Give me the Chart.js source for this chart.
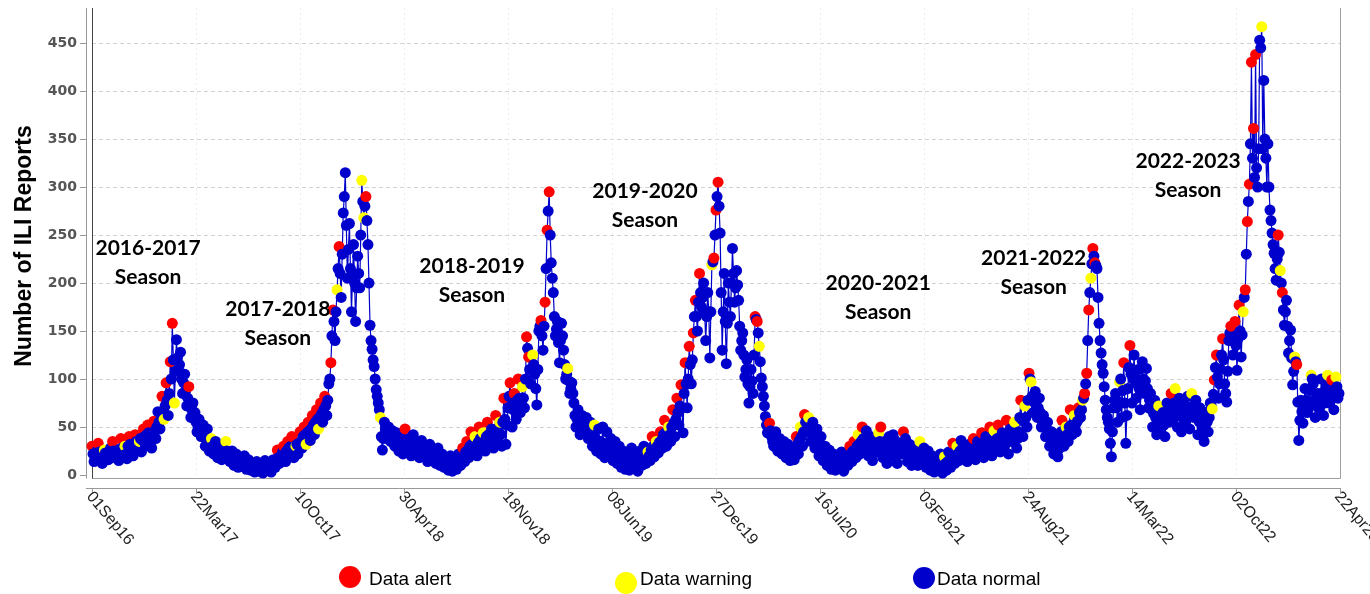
<!DOCTYPE html>
<html><head><meta charset="utf-8">
<script src="https://cdn.jsdelivr.net/npm/chart.js@4/dist/chart.umd.min.js"></script>
<style>html,body{margin:0;padding:0;background:#fff;overflow:hidden}#wrap{position:relative;width:1370px;height:594px}</style>
</head><body><div id="wrap"><canvas id="c"></canvas></div>
<script>
// ---- data: ILI reports, a reading every 2 days from 01Sep16 ----
// ili_* = readings on days 0,4,8,...  mid_* = readings on days 2,6,10,...
const stepDays = 4;
const tickLabels = ['01Sep16','22Mar17','10Oct17','30Apr18','18Nov18','08Jun19','27Dec19','16Jul20','03Feb21','24Aug21','14Mar22','02Oct22','22Apr23'];
const tickDays = [0,202,404,606,808,1010,1212,1414,1616,1818,2020,2222,2424];
const yTicks = [0,50,100,150,200,250,300,350,400,450];
const seasonNames = ['2016-2017','2017-2018','2018-2019','2019-2020','2020-2021','2021-2022','2022-2023'];
const legendLabels = ['Data alert','Data warning','Data normal'];

const ili_2016_09 = [30,14,22,33,18,12,26,20,16,28, 35,18,24,15,38,22,30,17,40,25, 20,42,28,35,24,48,30,52,38,28, 56,38,66,48,82,58,96,62,118,158, 75,141,110,128,85,105,72,92,60,75];
const mid_2016_09 = [22,18,25,24,20,21,23,19,22,26, 25,21,20,27,28,24,22,30,32,28, 32,35,30,38,36,40,42,44,34,40, 46,50,55,58,66,72,78,85,100,120, 108,122,115,100,96,88,80,76,68,62];
const ili_2017_03 = [65,45,58,40,52,30,48,25,38,22, 35,18,30,16,26,35,20,14,25,10, 22,8,18,12,20,6,16,5,12,3, 14,4,10,2,15,5,11,3,16,8, 26,12,20,30,14,35,22,40,18,30];
const mid_2017_03 = [55,50,48,46,42,38,36,32,30,28, 26,24,22,21,20,25,18,16,15,14, 15,12,13,14,10,11,9,8,7,9, 8,7,6,8,9,7,6,10,12,14, 18,16,24,22,25,28,30,26,28,32];
const ili_2017_10 = [22,45,28,50,32,55,36,62,42,68, 48,75,55,82,62,95,117,172,140,193, 238,185,273,315,205,262,170,240,160,228, 195,307,268,290,240,156,131,113,89,75, 60,26,55,42,50,35,46,30,44,25];
const mid_2017_10 = [32,35,40,42,44,46,48,52,55,58, 60,64,68,72,78,100,145,160,170,215, 210,230,290,260,235,215,205,200,195,210, 250,285,280,265,200,140,120,100,82,68, 40,38,48,45,40,42,38,36,32,34];
const ili_2018_04 = [40,22,48,28,38,20,42,24,35,18, 36,20,30,14,32,18,26,12,28,10, 22,8,18,5,20,4,15,6,22,10, 28,14,35,18,45,22,40,20,50,28, 44,25,55,32,48,28,62,36,55,30];
const mid_2018_04 = [30,34,36,32,28,30,32,28,26,27, 26,24,22,23,24,20,18,19,18,16, 14,12,11,12,10,9,10,13,15,18, 20,24,26,30,32,30,28,34,38,36, 34,40,42,38,36,44,48,45,42,55];
const ili_2018_11 = [80,32,70,96,50,85,58,100,65,92, 70,144,123,95,125,105,73,150,161,130, 180,255,295,221,190,145,160,117,158,130, 100,111,85,96,75,50,68,42,62,45, 60,38,55,30,52,25,48,22,50,18];
const mid_2018_11 = [58,52,82,72,68,70,78,80,76,80, 100,132,110,110,115,90,110,155,145,155, 215,275,250,205,165,152,138,140,145,115, 105,98,90,85,62,58,55,52,54,50, 48,46,42,40,38,36,35,34,30,32];
const ili_2019_05 = [45,20,38,15,35,12,30,8,25,6, 22,5,28,8,20,4,25,10,30,12, 24,15,40,19,35,23,45,28,57,30, 50,35,68,40,80,52,94,44,117,70, 134,95,148,182,150,210,175,200,140,190];
const mid_2019_05 = [32,28,26,24,22,20,18,16,14,13, 12,15,16,14,12,14,16,20,22,20, 20,26,30,28,30,34,36,42,44,40, 42,50,54,58,65,72,70,85,95,100, 115,120,165,165,180,190,185,170,165,170];
const ili_2019_12 = [122,219,226,276,305,252,130,210,116,200, 165,236,180,213,182,130,148,102,120,75, 110,85,165,160,134,101,82,61,44,54, 40,30,45,25,38,22,35,18,32,15, 28,16,40,22,50,30,63,45,60,35];
const mid_2019_12 = [170,222,250,290,280,190,170,160,158,180, 200,210,195,198,155,140,125,110,95,92, 98,125,162,148,118,92,72,52,48,46, 35,38,35,32,30,28,26,25,24,22, 22,28,32,36,40,45,55,52,48,45];
const ili_2020_07 = [55,28,48,20,40,15,30,10,26,6, 22,5,18,8,24,4,20,10,30,14, 35,18,42,22,50,28,46,20,40,15, 38,24,44,50,18,35,12,40,20,42, 36,12,30,22,45,38,14,32,10,28];
const mid_2020_07 = [42,38,34,30,28,22,20,18,16,14, 13,12,13,15,14,12,15,20,22,25, 26,30,32,35,38,36,33,30,28,26, 30,34,35,32,26,24,25,28,30,30, 24,22,26,32,34,26,22,20,19,20];
const ili_2021_01 = [30,10,35,14,28,8,25,5,20,3, 18,6,22,2,19,5,24,8,33,12, 30,15,36,18,28,14,32,20,38,16, 35,22,44,18,40,25,50,20,46,28, 52,24,44,30,57,22,48,35,55,28];
const mid_2021_01 = [20,22,24,20,18,16,15,13,11,10, 12,14,12,10,12,14,16,20,22,21, 22,25,27,26,22,24,26,28,27,26, 28,32,30,29,32,36,34,33,36,38, 38,34,36,42,38,35,40,45,42,38];
const ili_2021_08 = [45,78,40,72,50,106,97,65,87,60, 80,50,62,40,55,30,45,22,40,19, 35,57,30,50,35,68,42,62,45,70, 60,78,85,106,172,205,236,221,215,158, 127,106,78,60,48,19,70,85,55,97];
const mid_2021_08 = [60,58,56,60,78,100,82,76,72,70, 65,56,50,48,42,38,34,30,28,27, 45,42,40,42,50,52,50,52,56,65, 68,80,95,140,190,220,228,218,185,140, 115,92,68,55,33,45,78,70,76,100];
const ili_2022_02 = [60,117,33,90,135,75,125,80,110,68, 118,85,111,70,85,50,78,42,72,48, 65,40,75,55,85,60,90,50,80,45, 75,55,82,48,85,60,78,42,70,50, 35,65,45,75,69,99,125,80,110,142];
const mid_2022_02 = [88,75,62,112,105,100,102,95,90,93, 100,98,90,78,68,64,60,58,60,56, 52,58,65,70,72,75,70,65,62,60, 65,68,65,66,72,70,60,56,60,42, 50,55,60,72,84,112,102,95,125,120];
const ili_2022_09 = [95,76,140,155,125,160,109,177,123,170, 193,264,303,430,361,438,300,453,467,411, 330,345,276,252,231,203,250,213,190,156, 182,127,151,94,123,115,36,78,54,90, 65,72,104,95,60,85,70,100,62,88];
const mid_2022_09 = [85,108,148,140,142,135,142,150,146,185, 230,285,345,330,310,320,340,445,340,350, 300,300,265,240,215,225,232,200,172,170, 155,140,122,108,118,76,57,66,72,78, 68,88,100,78,72,78,85,80,75,92];
const ili_2023_03 = [104,75,99,68,102,80];
const mid_2023_03 = [88,85,80,86,92,85];

// status of the ili_* readings: a = alert, w = warning, n = normal (mid_* readings are normal)
const st_2016_09 = 'annannwnnn annnanwnan nanwnanann annnawanaa wnnnnnnann';
const st_2017_03 = 'nnnnnnnnwn nnnnnwnnnn nnnnnnnnnn nnnnnnnnnn annanananw';
const st_2017_10 = 'nanawanana wanannaanw annnnnnnnn nwwannnnnn wnnnnnnnnn';
const st_2018_04 = 'nnannnnnnn nnnnnnnnnn nnnnnnnnnn anananwnan wnannnanwn';
const st_2018_11 = 'annanananw naanwnnnan aaannnnnnn nwnnnnnnnn nnnnwnnnnn';
const st_2019_05 = 'nnnnnnnnnn nnnnnnnnnn wnanwnanan wnanananan anaanannnn';
const st_2019_12 = 'nwaaannnnn nnnnnnnnnn nnaawnnnna nnnnnnnnnn nnanwnanwn';
const st_2020_07 = 'nnnnnnnnnn nnnnnnnnan anwnannnnn nnwannnnnn nnnnannnnn';
const st_2021_01 = 'nnwnnnnnnn nnnnwnnnan wnnnnnnnan nnannnanwn annnannnwn';
const st_2021_08 = 'nanwnawnnn nnnnnnnnnn nanwnanwna nwaaawaann nnnnnnnnnw';
const st_2022_02 = 'nannannnnn nnnnnnnnwn nnnnanwnnn nnnnwnnnnn nnnnwaanna';
const st_2022_09 = 'nnnanananw aaaaaannwn nnnnnnawan nnnnwannnn nnwnnnnnnn';
const st_2023_03 = 'wnanwn';

// ---- build ----
const mainChunks = [ili_2016_09,ili_2017_03,ili_2017_10,ili_2018_04,ili_2018_11,ili_2019_05,ili_2019_12,ili_2020_07,ili_2021_01,ili_2021_08,ili_2022_02,ili_2022_09,ili_2023_03];
const midChunks = [mid_2016_09,mid_2017_03,mid_2017_10,mid_2018_04,mid_2018_11,mid_2019_05,mid_2019_12,mid_2020_07,mid_2021_01,mid_2021_08,mid_2022_02,mid_2022_09,mid_2023_03];
const statusChunks = [st_2016_09,st_2017_03,st_2017_10,st_2018_04,st_2018_11,st_2019_05,st_2019_12,st_2020_07,st_2021_01,st_2021_08,st_2022_02,st_2022_09,st_2023_03];
const COLORS = {a:'#ff0000', w:'#ffff00', n:'#0000cc'};
const pts = [], ptColors = [];
let idx = 0;
mainChunks.forEach((arr, k) => {
  const st = statusChunks[k].replace(/\s+/g,'');
  arr.forEach((v, j) => {
    const day = idx * stepDays;
    pts.push({x: day, y: v});
    ptColors.push(COLORS[st[j]] || COLORS.n);
    const m = midChunks[k][j];
    if (m !== undefined && day + stepDays / 2 <= 2424) {
      pts.push({x: day + stepDays / 2, y: m});
      ptColors.push(COLORS.n);
    }
    idx++;
  });
});

const seasonAnchors = [ // [day, value] centre of first text line
  [109,236],[361,173],[738,218],[1074,296],[1527,200],[1829,226],[2129,327]
];

const decor = {
  id: 'decor',
  beforeDatasetsDraw(chart) {
    const {ctx, chartArea: a, scales: {x, y}} = chart;
    ctx.save();
    ctx.lineWidth = 1;
    ctx.strokeStyle = '#d2d2d2';
    ctx.setLineDash([4,3]);
    yTicks.forEach(v => {
      if (v === 0) return;
      const py = Math.round(y.getPixelForValue(v)) + 0.5;
      ctx.beginPath(); ctx.moveTo(a.left, py); ctx.lineTo(a.right, py); ctx.stroke();
    });
    ctx.strokeStyle = '#ededed';
    ctx.setLineDash([2,3]);
    tickDays.forEach(d => {
      const px = Math.round(x.getPixelForValue(d)) + 0.5;
      if (px < a.left + 3 || px > a.right - 3) return;
      ctx.beginPath(); ctx.moveTo(px, a.top); ctx.lineTo(px, a.bottom); ctx.stroke();
    });
    ctx.setLineDash([]);
    ctx.strokeStyle = '#a0a0a0';
    ctx.beginPath();
    ctx.moveTo(a.right + 0.5, a.top); ctx.lineTo(a.right + 0.5, a.bottom + 0.5);
    ctx.lineTo(a.left, a.bottom + 0.5);
    ctx.stroke();
    ctx.strokeStyle = '#444';
    ctx.beginPath(); ctx.moveTo(a.left + 0.5, a.top); ctx.lineTo(a.left + 0.5, a.bottom + 0.5); ctx.stroke();
    ctx.strokeStyle = '#999';
    ctx.beginPath(); ctx.moveTo(86.5, a.top); ctx.lineTo(86.5, a.bottom + 0.5); ctx.stroke();
    ctx.beginPath(); ctx.moveTo(86, 488.5); ctx.lineTo(a.right + 1, 488.5); ctx.stroke();
    ctx.restore();
  },
  afterDatasetsDraw(chart) {
    const {ctx, chartArea: a, scales: {x, y}} = chart;
    ctx.save();
    ctx.strokeStyle = '#999'; ctx.lineWidth = 1;
    ctx.font = 'bold 14px "DejaVu Sans"';
    ctx.fillStyle = '#555';
    ctx.textAlign = 'right'; ctx.textBaseline = 'middle';
    yTicks.forEach(v => {
      const py = Math.round(y.getPixelForValue(v)) + 0.5;
      ctx.beginPath(); ctx.moveTo(80, py); ctx.lineTo(86, py); ctx.stroke();
      ctx.fillText(String(v), 77, py);
    });
    ctx.save();
    ctx.translate(31, 246);
    ctx.rotate(-Math.PI / 2);
    ctx.font = 'bold 23px "Liberation Sans", Arial, sans-serif';
    ctx.fillStyle = '#000';
    ctx.textAlign = 'center'; ctx.textBaseline = 'alphabetic';
    ctx.fillText('Number of ILI Reports', 0, 0);
    ctx.restore();
    ctx.font = '16px "Liberation Sans", Arial, sans-serif';
    ctx.fillStyle = '#222';
    tickDays.forEach((d, i) => {
      const px = Math.round(x.getPixelForValue(d)) + 0.5;
      ctx.beginPath(); ctx.moveTo(px, 488); ctx.lineTo(px, 494); ctx.stroke();
      ctx.save();
      ctx.translate(px - 3, 494);
      ctx.rotate(50 * Math.PI / 180);
      ctx.textAlign = 'left'; ctx.textBaseline = 'middle';
      ctx.fillText(tickLabels[i], 0, 0);
      ctx.restore();
    });
    ctx.font = 'bold 21px Lato, "Open Sans", sans-serif';
    ctx.fillStyle = '#000';
    ctx.textAlign = 'center'; ctx.textBaseline = 'middle';
    seasonAnchors.forEach((p, i) => {
      const px = x.getPixelForValue(p[0]);
      const py = y.getPixelForValue(p[1]);
      ctx.fillText(seasonNames[i], px, py);
      ctx.fillText('Season', px, py + 29);
    });
    const legendPos = [[350,577,369],[626,583,640],[924,578,937]];
    const legendCols = [COLORS.a, COLORS.w, COLORS.n];
    ctx.font = '19px "Liberation Sans", Arial, sans-serif';
    ctx.textAlign = 'left'; ctx.textBaseline = 'alphabetic';
    legendLabels.forEach((t, i) => {
      const [cx, cy, tx] = legendPos[i];
      ctx.fillStyle = legendCols[i];
      ctx.beginPath(); ctx.arc(cx, cy, 11, 0, Math.PI * 2); ctx.fill();
      ctx.fillStyle = '#000';
      ctx.fillText(t, tx, 585);
    });
    ctx.restore();
  }
};

new Chart(document.getElementById('c'), {
  type: 'line',
  data: {
    datasets: [{
      data: pts,
      borderColor: '#0000cc',
      borderWidth: 1.2,
      pointRadius: 5.5,
      pointBackgroundColor: ptColors,
      pointBorderColor: ptColors,
      pointBorderWidth: 0,
      tension: 0,
      clip: false
    }]
  },
  options: {
    responsive: true,
    maintainAspectRatio: false,
    animation: false,
    events: [],
    layout: {padding: {left: 92, right: 30, top: 8, bottom: 116}},
    plugins: {legend: {display: false}, tooltip: {enabled: false}},
    scales: {
      x: {type: 'linear', min: 0, max: 2424, display: false},
      y: {type: 'linear', min: -3.125, max: 486.5, display: false}
    }
  },
  plugins: [decor]
});
</script>
</body></html>
